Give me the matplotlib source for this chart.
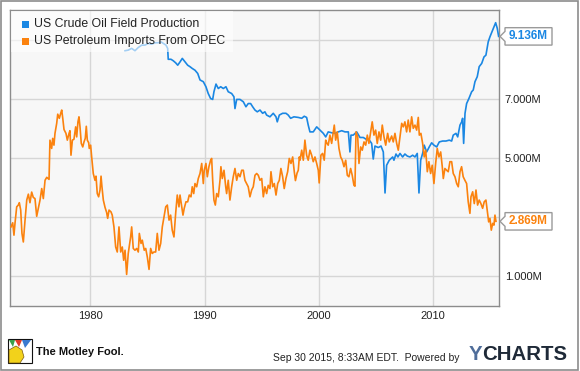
import matplotlib
matplotlib.use('Agg')
import matplotlib.pyplot as plt
from matplotlib.patches import Rectangle, Polygon
from matplotlib.transforms import IdentityTransform

plt.rcParams['font.family'] = ['Liberation Sans', 'DejaVu Sans']

# US crude oil field production, million barrels/day
oil_years = [1983.04, 1983.32, 1983.62, 1983.91, 1984.20, 1984.50, 1984.79, 1985.07, 1985.37, 1985.66,
             1985.95, 1986.19, 1986.39, 1986.62, 1986.77, 1986.82, 1987.06, 1987.26, 1987.47, 1987.65,
             1987.85, 1988.05, 1988.29, 1988.52, 1988.72, 1988.92, 1989.16, 1989.40, 1989.60, 1989.89,
             1990.12, 1990.32, 1990.53, 1990.71, 1990.82, 1991.00, 1991.20, 1991.41, 1991.64, 1991.87,
             1992.07, 1992.37, 1992.57, 1992.66, 1992.81, 1993.10, 1993.39, 1993.62, 1993.82, 1994.03,
             1994.21, 1994.41, 1994.61, 1994.85, 1995.08, 1995.28, 1995.43, 1995.72, 1996.01, 1996.25,
             1996.36, 1996.54, 1996.83, 1997.12, 1997.32, 1997.53, 1997.82, 1998.20, 1998.50, 1998.72,
             1998.93, 1999.07, 1999.22, 1999.51, 1999.81, 2000.10, 2000.39, 2000.60, 2000.82, 2001.12,
             2001.41, 2001.70, 2002.00, 2002.29, 2002.58, 2002.72, 2002.81, 2003.01, 2003.31, 2003.60,
             2003.89, 2004.18, 2004.38, 2004.62, 2004.76, 2004.91, 2005.20, 2005.44, 2005.64, 2005.79,
             2005.93, 2006.16, 2006.46, 2006.57, 2006.75, 2006.92, 2007.10, 2007.33, 2007.53, 2007.74,
             2007.97, 2008.21, 2008.41, 2008.61, 2008.76, 2008.91, 2009.08, 2009.22, 2009.43, 2009.66,
             2009.87, 2010.07, 2010.31, 2010.54, 2010.83, 2011.12, 2011.41, 2011.62, 2011.76, 2012.00,
             2012.15, 2012.35, 2012.50, 2012.58, 2012.67, 2012.79, 2012.93, 2013.13, 2013.37, 2013.51,
             2013.66, 2013.86, 2014.03, 2014.25, 2014.45, 2014.62, 2014.82, 2014.97, 2015.15, 2015.32,
             2015.47, 2015.61, 2015.73]
oil_mbpd = [8.65, 8.67, 8.73, 8.65, 8.76, 8.84, 8.84, 8.90, 8.87, 8.92,
            8.92, 8.95, 8.90, 8.84, 8.73, 8.36, 8.36, 8.31, 8.24, 8.16,
            8.27, 8.39, 8.27, 8.16, 8.11, 8.05, 7.99, 7.88, 7.66, 7.60,
            7.43, 7.20, 7.03, 7.00, 7.26, 7.52, 7.37, 7.43, 7.37, 7.43,
            7.26, 7.20, 7.09, 6.69, 7.00, 7.00, 6.92, 6.75, 6.86, 6.86,
            6.75, 6.64, 6.58, 6.64, 6.53, 6.58, 6.47, 6.41, 6.53, 6.41,
            6.24, 6.47, 6.53, 6.53, 6.47, 6.36, 6.41, 6.39, 6.36, 6.43,
            6.39, 6.13, 5.90, 5.90, 6.07, 5.96, 5.85, 5.73, 5.90, 5.87,
            5.85, 5.90, 5.94, 5.90, 5.90, 5.22, 5.79, 5.79, 5.90, 5.71,
            5.71, 5.64, 5.64, 5.51, 4.98, 5.42, 5.37, 5.42, 5.22, 3.83,
            4.77, 4.94, 5.05, 4.94, 5.15, 5.05, 5.17, 5.05, 5.15, 5.08,
            5.05, 5.11, 5.05, 5.17, 3.83, 4.94, 5.17, 5.45, 5.22, 5.39,
            5.53, 5.45, 5.39, 5.56, 5.59, 5.59, 5.62, 5.59, 5.79, 5.85,
            5.73, 6.13, 6.24, 6.36, 5.51, 6.53, 6.86, 7.03, 7.26, 7.32,
            7.60, 7.77, 8.11, 8.22, 8.44, 8.50, 8.95, 9.12, 9.29, 9.46,
            9.60, 9.41, 9.136]

# US petroleum imports from OPEC, million barrels/day
opec_years = [1973.06, 1973.21, 1973.32, 1973.41, 1973.56, 1973.70, 1973.79, 1973.91, 1974.02, 1974.14,
              1974.29, 1974.44, 1974.58, 1974.72, 1974.87, 1975.01, 1975.16, 1975.31, 1975.45, 1975.60,
              1975.75, 1975.89, 1976.04, 1976.19, 1976.39, 1976.47, 1976.62, 1976.71, 1976.82, 1976.91,
              1977.06, 1977.15, 1977.29, 1977.41, 1977.50, 1977.59, 1977.70, 1977.87, 1977.99, 1978.14,
              1978.22, 1978.31, 1978.43, 1978.57, 1978.72, 1978.81, 1978.92, 1979.01, 1979.10, 1979.21,
              1979.34, 1979.45, 1979.56, 1979.65, 1979.74, 1979.86, 1979.91, 1980.03, 1980.12, 1980.26,
              1980.41, 1980.50, 1980.61, 1980.73, 1980.85, 1980.94, 1981.02, 1981.14, 1981.29, 1981.43,
              1981.52, 1981.64, 1981.81, 1981.92, 1982.07, 1982.22, 1982.36, 1982.51, 1982.66, 1982.80,
              1982.92, 1983.04, 1983.18, 1983.32, 1983.53, 1983.62, 1983.76, 1983.91, 1984.06, 1984.20,
              1984.29, 1984.44, 1984.55, 1984.72, 1984.85, 1984.99, 1985.14, 1985.28, 1985.42, 1985.57,
              1985.72, 1985.86, 1986.01, 1986.16, 1986.30, 1986.45, 1986.60, 1986.74, 1986.89, 1987.03,
              1987.17, 1987.32, 1987.47, 1987.61, 1987.76, 1987.85, 1988.00, 1988.11, 1988.22, 1988.37,
              1988.52, 1988.66, 1988.81, 1988.92, 1989.05, 1989.16, 1989.31, 1989.45, 1989.60, 1989.75,
              1989.89, 1989.97, 1990.12, 1990.24, 1990.38, 1990.53, 1990.62, 1990.71, 1990.82, 1990.94,
              1991.06, 1991.20, 1991.35, 1991.43, 1991.55, 1991.70, 1991.85, 1991.93, 1992.07, 1992.22,
              1992.37, 1992.51, 1992.66, 1992.81, 1992.95, 1993.10, 1993.25, 1993.39, 1993.53, 1993.68,
              1993.82, 1993.97, 1994.12, 1994.26, 1994.41, 1994.56, 1994.70, 1994.85, 1995.00, 1995.14,
              1995.28, 1995.43, 1995.57, 1995.72, 1995.81, 1995.96, 1996.10, 1996.25, 1996.40, 1996.54,
              1996.68, 1996.83, 1996.97, 1997.12, 1997.27, 1997.41, 1997.56, 1997.71, 1997.85, 1997.95,
              1998.09, 1998.20, 1998.29, 1998.35, 1998.50, 1998.64, 1998.78, 1998.93, 1999.07, 1999.22,
              1999.37, 1999.51, 1999.66, 1999.81, 1999.95, 2000.03, 2000.18, 2000.33, 2000.47, 2000.60,
              2000.71, 2000.82, 2000.97, 2001.12, 2001.26, 2001.35, 2001.47, 2001.61, 2001.76, 2001.91,
              2002.05, 2002.20, 2002.35, 2002.49, 2002.63, 2002.78, 2002.92, 2003.07, 2003.16, 2003.25,
              2003.40, 2003.51, 2003.66, 2003.80, 2003.95, 2004.10, 2004.24, 2004.38, 2004.53, 2004.67,
              2004.82, 2004.97, 2005.11, 2005.26, 2005.41, 2005.55, 2005.70, 2005.85, 2006.02, 2006.16,
              2006.37, 2006.51, 2006.66, 2006.81, 2006.95, 2007.10, 2007.25, 2007.39, 2007.53, 2007.68,
              2007.82, 2007.97, 2008.12, 2008.26, 2008.41, 2008.56, 2008.70, 2008.79, 2008.93, 2009.08,
              2009.22, 2009.35, 2009.49, 2009.63, 2009.78, 2009.92, 2010.07, 2010.22, 2010.36, 2010.51,
              2010.66, 2010.80, 2010.89, 2011.03, 2011.18, 2011.32, 2011.47, 2011.62, 2011.76, 2011.91,
              2012.06, 2012.20, 2012.35, 2012.49, 2012.63, 2012.78, 2012.93, 2013.07, 2013.22, 2013.31,
              2013.46, 2013.60, 2013.75, 2013.89, 2014.03, 2014.18, 2014.33, 2014.47, 2014.62, 2014.73,
              2014.86, 2014.97, 2015.09, 2015.21, 2015.32, 2015.41, 2015.50]
opec_mbpd = [2.68, 2.82, 2.40, 2.80, 3.36, 3.42, 3.50, 3.25, 2.46, 2.17,
             2.91, 3.59, 3.79, 3.50, 3.86, 3.68, 3.64, 3.04, 3.31, 3.59,
             3.98, 3.64, 4.26, 4.36, 4.29, 5.62, 5.34, 5.68, 5.45, 5.85,
             6.19, 6.50, 6.36, 6.53, 6.64, 6.36, 5.98, 5.85, 5.62, 5.85,
             5.94, 5.11, 5.62, 5.65, 6.07, 5.73, 6.24, 6.41, 6.07, 5.51,
             5.39, 5.56, 5.68, 6.09, 5.62, 5.53, 5.34, 5.45, 5.05, 4.49,
             4.26, 4.40, 3.81, 3.70, 3.93, 4.40, 4.04, 3.59, 3.34, 3.17,
             2.97, 3.25, 3.19, 3.08, 2.68, 2.00, 1.83, 2.68, 1.83, 2.00,
             1.55, 1.89, 1.07, 1.78, 2.34, 2.68, 1.95, 1.89, 1.95, 1.83,
             2.46, 2.12, 2.23, 1.89, 1.95, 1.66, 1.24, 1.95, 1.78, 1.83,
             1.83, 2.46, 1.89, 2.12, 2.68, 3.02, 3.36, 3.42, 2.91, 3.08,
             2.57, 2.34, 3.14, 3.76, 3.36, 3.76, 3.36, 3.08, 3.31, 3.53,
             3.53, 3.76, 3.70, 4.04, 3.81, 4.15, 4.04, 4.32, 4.49, 4.83,
             4.15, 4.60, 4.83, 4.38, 4.72, 4.94, 5.00, 4.26, 3.59, 3.42,
             3.81, 3.70, 4.26, 4.72, 4.32, 4.60, 4.04, 3.81, 4.26, 3.59,
             4.04, 4.38, 4.66, 4.26, 4.49, 4.38, 4.60, 4.60, 4.26, 4.15,
             4.04, 3.70, 3.93, 4.04, 4.43, 4.49, 4.43, 4.26, 4.32, 3.70,
             4.04, 3.81, 4.09, 3.98, 4.55, 4.04, 4.15, 3.76, 4.15, 4.26,
             4.66, 4.38, 3.98, 4.32, 4.55, 5.00, 4.83, 5.05, 4.55, 4.25,
             4.50, 4.60, 5.05, 4.94, 5.28, 4.94, 5.62, 5.11, 4.94, 5.28,
             5.11, 4.89, 5.05, 4.83, 4.60, 4.17, 5.11, 5.17, 4.94, 5.62,
             5.51, 5.45, 5.79, 5.51, 5.90, 6.13, 5.62, 5.90, 5.34, 5.05,
             4.94, 4.72, 4.94, 4.43, 4.38, 4.66, 4.43, 4.09, 4.06, 5.90,
             5.73, 4.83, 5.39, 5.28, 5.56, 5.45, 5.79, 5.51, 5.90, 6.24,
             5.79, 5.96, 5.51, 5.90, 5.62, 6.13, 5.73, 5.45, 5.85, 5.56,
             5.76, 5.56, 5.85, 5.51, 5.28, 5.73, 6.19, 6.07, 6.24, 5.90,
             6.30, 5.90, 6.41, 6.02, 6.13, 5.96, 6.39, 5.79, 5.85, 5.51,
             5.05, 5.28, 4.55, 4.89, 4.49, 4.77, 4.15, 4.83, 5.34, 5.05,
             5.22, 4.72, 4.32, 4.66, 4.60, 4.55, 4.89, 4.89, 4.49, 4.38,
             4.15, 4.04, 4.55, 4.72, 4.38, 4.26, 4.15, 3.53, 3.14, 3.70,
             3.87, 3.47, 3.93, 3.42, 3.59, 3.47, 3.31, 3.53, 3.59, 3.25,
             2.85, 2.97, 2.57, 2.80, 2.74, 3.08, 2.869]

series_names = ['US Crude Oil Field Production', 'US Petroleum Imports From OPEC']
x_ticks = [1980, 1990, 2000, 2010]
y_ticks = [1, 3, 5, 7, 9]
y_tick_labels = ['1.000M', '', '5.000M', '7.000M', '']

BLUE = '#1a87e3'
ORANGE = '#fb820e'
W, H = 580, 371


def fx(x):
    return x / W


def fy(y):
    return 1 - y / H


fig = plt.figure(figsize=(W / 100, H / 100), dpi=100)
ax = fig.add_axes([fx(10.3), fy(306), (499.3 - 10.3) / W, (306 - 10.3) / H])
ax.set_facecolor('#f7f7f7')

ax.plot(oil_years, oil_mbpd, color=BLUE, lw=1.2, zorder=3)
ax.plot(opec_years, opec_mbpd, color=ORANGE, lw=1.2, zorder=3)

ax.set_xlim(1973.0, 2015.79)
ax.set_ylim(0.0, 10.02)
ax.set_xticks(x_ticks)
ax.set_xticklabels([str(t) for t in x_ticks])
ax.yaxis.tick_right()
ax.set_yticks(y_ticks)
ax.set_yticklabels(y_tick_labels)
ax.tick_params(axis='x', length=0, pad=3.5, labelsize=8, labelcolor='#222222')
ax.tick_params(axis='y', length=0, pad=4, labelsize=8, labelcolor='#222222')
ax.grid(True, color='#d6d6d6', lw=1)
ax.set_axisbelow(True)
for s in ax.spines.values():
    s.set_color('#8c8c8c')
    s.set_linewidth(1.0)

# legend, drawn by hand like the ycharts box
ax.add_patch(Rectangle((fx(10.8), fy(52)), (233 - 10.8) / W, (52 - 10.8) / H,
                       transform=fig.transFigure, facecolor='white', edgecolor='none',
                       alpha=0.6, zorder=5, clip_on=False))
for i, (name, col) in enumerate(zip(series_names, [BLUE, ORANGE])):
    top = 20.7 + i * 16.8
    ax.add_patch(Rectangle((fx(21.7), fy(top + 7)), 7 / W, 7 / H, transform=fig.transFigure,
                           facecolor=col, edgecolor='none', zorder=6, clip_on=False))
    fig.text(fx(33.5), fy(top + 3.5), name, fontsize=8.8, color='#222222',
             ha='left', va='center', zorder=7)


# last-value callouts on the right axis
def callout(x_last, value, col):
    _, yd = ax.transData.transform((x_last, value))
    xr = ax.transAxes.transform((1, 0))[0]
    pts = [(xr + 0.7, yd), (xr + 5.7, yd + 5), (xr + 5.7, yd + 8.7), (xr + 52.7, yd + 8.7),
           (xr + 52.7, yd - 8.7), (xr + 5.7, yd - 8.7), (xr + 5.7, yd - 5)]
    fig.add_artist(Polygon(pts, closed=True, transform=IdentityTransform(),
                           facecolor='white', edgecolor='#9a9a9a', lw=1.0))
    fig.text(xr + 29.2, yd, '%.3fM' % value, transform=IdentityTransform(),
             fontsize=8.5, fontweight='bold', color=col, ha='center', va='center')


callout(oil_years[-1], oil_mbpd[-1], BLUE)
callout(opec_years[-1], opec_mbpd[-1], ORANGE)

# footer
logo = IdentityTransform()
fig.add_artist(Rectangle((8, H - 363.3), 24.3, 24, transform=logo,
                         facecolor='white', edgecolor='#111111', lw=0.8))
fig.add_artist(Polygon([(9, H - 363), (9, H - 350), (16, H - 346), (22, H - 350), (24, H - 357),
                        (20, H - 363)], closed=True, transform=logo,
                       facecolor='#f2d21b', edgecolor='#7a5a10', lw=0.5))
fig.add_artist(Polygon([(9, H - 340), (15, H - 340), (13, H - 347)], closed=True,
                       transform=logo, facecolor='#3aa04a', edgecolor='none'))
fig.add_artist(Polygon([(15, H - 340), (22, H - 340), (19, H - 347)], closed=True,
                       transform=logo, facecolor='#e03a2a', edgecolor='none'))
fig.add_artist(Polygon([(22, H - 340), (31, H - 340), (25, H - 348)], closed=True,
                       transform=logo, facecolor='#3a7ad0', edgecolor='none'))
fig.text(fx(35.7), fy(351.7), 'The Motley Fool.', fontsize=8, fontweight='bold',
         family=['Liberation Sans Narrow', 'Liberation Sans', 'DejaVu Sans'],
         color='#111111', ha='left', va='center')
fig.text(fx(272.7), fy(358.3), 'Sep 30 2015, 8:33AM EDT.  Powered by', fontsize=7.5,
         color='#222222', ha='left', va='center')
fig.text(fx(468.3), fy(355), 'Y', fontsize=14.7, fontweight='bold', color='#4f6d9a',
         ha='left', va='center')
fig.text(fx(482.5), fy(355), 'CHARTS', fontsize=14.7, fontweight='bold', color='#1f2a38',
         ha='left', va='center')

# outer frame of the image
fig.add_artist(Rectangle((1, 1.5), 576.5, 368.5, transform=IdentityTransform(),
                         facecolor='none', edgecolor='#8c8c8c', lw=1.2))

fig.savefig('out.png', dpi=100, facecolor='white')
